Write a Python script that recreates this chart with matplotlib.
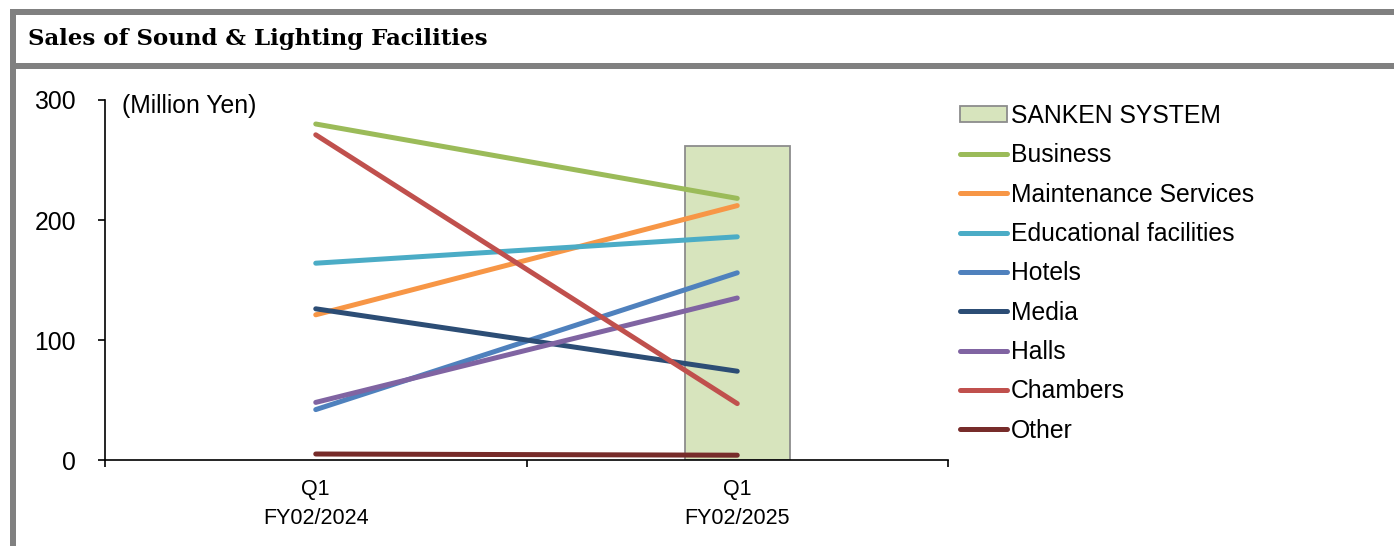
import numpy as np
import matplotlib
matplotlib.use("Agg")
import matplotlib.pyplot as plt
from matplotlib import font_manager
from matplotlib.patches import Rectangle

# quarterly sales by facility type (million yen)
periods = ["Q1\nFY02/2024", "Q1\nFY02/2025"]
sanken_total = [np.nan, 262]
business = [280, 218]
maintenance = [121, 212]
educational = [164, 186]
hotels = [42, 156]
media = [126, 74]
halls = [48, 135]
chambers = [271, 47]
other = [5, 4]

series = [
    ("Business", business, "#9BBB59"),
    ("Maintenance Services", maintenance, "#F79646"),
    ("Educational facilities", educational, "#4BACC6"),
    ("Hotels", hotels, "#4F81BD"),
    ("Media", media, "#2C4D75"),
    ("Halls", halls, "#8064A2"),
    ("Chambers", chambers, "#C0504D"),
    ("Other", other, "#772C2A"),
]

W, H = 1394, 546
fig = plt.figure(figsize=(W / 100, H / 100), dpi=100)
plt.rcParams["font.family"] = ["Liberation Sans", "DejaVu Sans"]

# narrow face for the category labels if one is installed
narrow = "Liberation Sans"
for cand in ["Liberation Sans Narrow", "DejaVu Sans Condensed"]:
    try:
        font_manager.findfont(cand, fallback_to_default=False)
        narrow = cand
        break
    except Exception:
        pass

def px(x0, y0, w, h):
    return (x0 / W, 1 - (y0 + h) / H, w / W, h / H)

# grey frame around the panel
for x0, y0, w, h in [(10, 9, 6, H - 9), (10, 9, W - 10, 6), (10, 63, W - 10, 6)]:
    fx, fy, fw, fh = px(x0, y0, w, h)
    fig.add_artist(Rectangle((fx, fy), fw, fh, transform=fig.transFigure,
                             facecolor="#808080", edgecolor="none"))

fig.text(28 / W, 1 - 45 / H, "Sales of Sound & Lighting Facilities",
         family="DejaVu Serif", fontsize=16.5, fontweight="bold",
         va="baseline", ha="left")

ax = fig.add_axes([105 / W, 1 - 460 / H, 843 / W, 360 / H])
x = np.arange(len(periods))

bar = ax.bar(x, sanken_total, width=0.25, color="#D7E4BD", edgecolor="#8C8C8C",
             linewidth=1.3, label="SANKEN SYSTEM", zorder=1)
lines = []
for name, vals, col in series:
    ln, = ax.plot(x, vals, color=col, lw=3.6, solid_capstyle="round", label=name, zorder=2)
    lines.append(ln)

ax.set_xlim(-0.5, 1.5)
ax.set_ylim(0, 300)
ax.set_yticks([0, 100, 200, 300])
ax.tick_params(axis="y", direction="out", length=5, width=1.2, labelsize=17.8, pad=16)
ax.set_xticks(x)
ax.set_xticklabels(periods, family=narrow,
                   fontsize=16.5 if narrow != "Liberation Sans" else 15.5,
                   linespacing=1.45)
ax.tick_params(axis="x", length=0, pad=14)
ax.set_xticks([-0.5, 0.5, 1.5], minor=True)
ax.tick_params(axis="x", which="minor", direction="out", length=5, width=1.2)
for s in ["top", "right"]:
    ax.spines[s].set_visible(False)
for s in ["left", "bottom"]:
    ax.spines[s].set_linewidth(1.2)

ax.text(0.02, 0.983, "(Million Yen)", transform=ax.transAxes, fontsize=17.8,
        ha="left", va="center")

ax.legend([bar] + lines, ["SANKEN SYSTEM"] + [s[0] for s in series],
          loc="upper left", bbox_to_anchor=(960 / W, 1 - 104 / H),
          bbox_transform=fig.transFigure, frameon=False, fontsize=17.8,
          handlelength=1.9, handletextpad=0.17, labelspacing=0.62,
          borderpad=0, borderaxespad=0, handleheight=0.6)

fig.savefig("out.png", dpi=100)
